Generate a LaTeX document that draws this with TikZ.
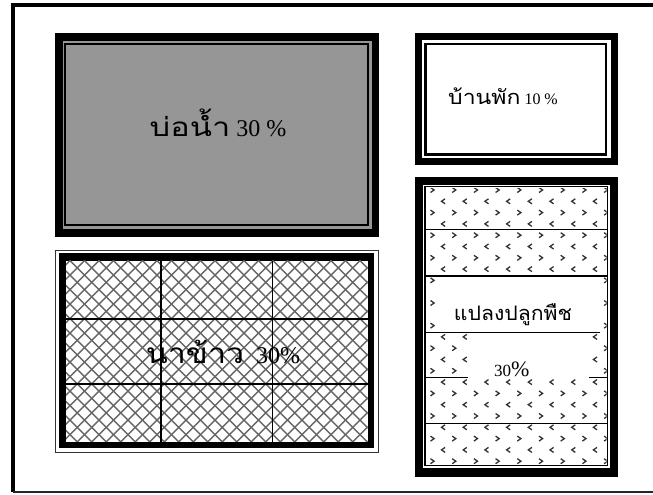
\documentclass[tikz,border=0pt]{standalone}
\usepackage{fontspec}
\setmainfont{Liberation Serif}
\newfontfamily\thaifont[Script=Thai]{Loma}
\tikzset{
  heavy/.style={fill=black},
  thinframe/.style={draw=black,line width=2pt},
  hatch/.style={draw=black!60,line width=1.4pt},
  chev/.style={draw=black!80,line width=1.3pt},
  gridline/.style={draw=black,line width=1.1pt},
  lbl/.style={anchor=base,inner sep=0pt,text=black}
}
\definecolor{pondgray}{RGB}{150,150,150}
\begin{document}
\begin{tikzpicture}[x=1pt,y=-1pt]
\useasboundingbox (0,0) rectangle (653,495);
% outer frame
\coordinate (ob) at (12.7,492);
\coordinate (ot) at (12.7,5.3);
\coordinate (or) at (653,5.3);
\coordinate (obr) at (653,492);
\draw[line width=4pt] (ob) -- (ot) -- (or);
\draw[line width=2pt,black!85] (ob) -- (obr);

% pond
\fill[heavy] (55,33.3) rectangle (379,236.7);
\fill[pondgray] (62.5,40.8) rectangle (371.5,229.2);
\draw[thinframe] (65.3,44.3) rectangle (368.3,225.3);
\node[lbl] (pond) at (218,136.7) {\scalebox{1.25}[1]{\thaifont\fontsize{26}{26}\selectfont บ่อน้ำ}\fontsize{24}{24}\selectfont{} 30 \%};

% house
\fill[heavy] (415,33.3) rectangle (618.3,165);
\fill[white] (422,40.5) rectangle (611,158);
\draw[line width=2.5pt] (425.3,44) rectangle (606,154.7);
\node[lbl] (house) at (503,104) {\scalebox{1.15}[1]{\thaifont\fontsize{20}{20}\selectfont บ้านพัก}\fontsize{16}{16}\selectfont{} 10 \%};

% crop plots
\fill[heavy] (415,177.3) rectangle (618.3,476.7);
\fill[white] (422.7,185) rectangle (610,468);
\begin{scope}
  \clip (426,188) rectangle (606.7,464);
  \foreach \j in {0,...,12} {
    \foreach \k in {-1,...,8} {
      \draw[chev] ({432.3+21.7*\k-1.8},{190+22.6*\j-2.5}) -- ++(3.6,2.5) -- ++(-3.6,2.5);
      \draw[chev] ({443.3+21.7*\k+1.8},{201.3+22.6*\j-2.5}) -- ++(-3.6,2.5) -- ++(3.6,2.5);
    }
  }
\end{scope}
\fill[white] (436.7,276) rectangle (602,332.7);
\fill[white] (468,332.7) rectangle (589,377.3);
\draw[line width=1.6pt] (425,186.5) rectangle (607.5,465.5);
\coordinate (cl1) at (425,229.3); \coordinate (cr1) at (607.5,229.3);
\coordinate (cl2) at (425,276);   \coordinate (cr2) at (607.5,276);
\coordinate (cl3) at (425,332.7); \coordinate (cr3) at (600,332.7);
\coordinate (cl4) at (425,377.3); \coordinate (cm4) at (468,377.3);
\coordinate (cn4) at (589,377.3); \coordinate (cr4) at (607.5,377.3);
\coordinate (cl5) at (425,423.3); \coordinate (cr5) at (607.5,423.3);
\draw[gridline] (cl1) -- (cr1);
\draw[gridline] (cl2) -- (cr2);
\draw[gridline] (cl3) -- (cr3);
\draw[gridline] (cl4) -- (cm4);
\draw[gridline] (cn4) -- (cr4);
\draw[gridline] (cl5) -- (cr5);
\node[lbl] (crop) at (513,320) {\scalebox{1.06}[1]{\thaifont\fontsize{20}{20}\selectfont แปลงปลูกพืช}};
\node[lbl] (croppct) at (511.7,376.7) {\fontsize{17}{17}\selectfont 30{\fontsize{22}{22}\selectfont\%}};

% rice field
\draw[line width=1pt,black!80] (55.5,250) rectangle (378,452.7);
\fill[heavy] (59.3,253.3) rectangle (374,448.3);
\fill[white] (66,260.7) rectangle (367.7,441.7);
\begin{scope}
  \clip (66,260.7) rectangle (367.7,441.7);
  \foreach \i in {-14,...,35} {
    \draw[hatch] ({70+14.5*\i},260.7) -- ++(190,190);
    \draw[hatch] ({70+14.5*\i},260.7) -- ++(-190,190);
  }
\end{scope}
\coordinate (rv1t) at (161,260.7);   \coordinate (rv1b) at (161,441.7);
\coordinate (rv2t) at (272.7,260.7); \coordinate (rv2b) at (272.7,441.7);
\coordinate (rh1l) at (66,319);      \coordinate (rh1r) at (367.7,319);
\coordinate (rh2l) at (66,384);      \coordinate (rh2r) at (367.7,384);
\draw[gridline] (rv1t) -- (rv1b);
\draw[gridline] (rv2t) -- (rv2b);
\draw[gridline] (rh1l) -- (rh1r);
\draw[gridline] (rh2l) -- (rh2r);
\node[lbl] (rice) at (223,363.3) {\scalebox{1.15}[1]{\thaifont\fontsize{28}{28}\selectfont นาข้าว}\fontsize{24}{24}\selectfont{}\ \ 30\%};
\end{tikzpicture}
\end{document}
